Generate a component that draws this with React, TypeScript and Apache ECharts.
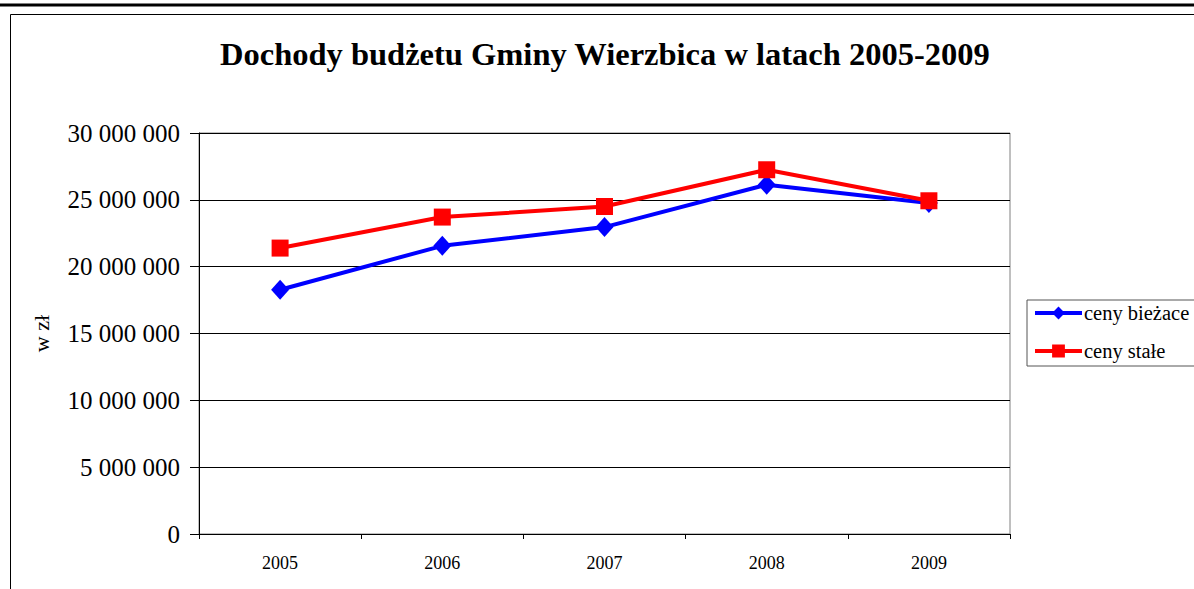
import React, { useEffect, useRef } from "react";
import * as echarts from "echarts";

const years = ["2005", "2006", "2007", "2008", "2009"];
const cenyBiezace = [18270000, 21560000, 22960000, 26130000, 24760000];
const cenyStale = [21390000, 23710000, 24500000, 27250000, 24930000];
const titleText = "Dochody budżetu Gminy Wierzbica w latach 2005-2009";
const seriesNames = ["ceny bieżace", "ceny stałe"];
const yName = "w zł";

const FONT = "'Liberation Serif', 'Times New Roman', serif";

const fmt = (v: number) => String(v).replace(/\B(?=(\d{3})+(?!\d))/g, " ");

export default function App() {
  const ref = useRef<HTMLDivElement>(null);
  useEffect(() => {
    if (!ref.current) return;
    const chart = echarts.init(ref.current, undefined, { renderer: "svg" });
    chart.setOption({
      animation: false,
      backgroundColor: "#ffffff",
      textStyle: { fontFamily: FONT },
      title: {
        text: titleText,
        left: 220,
        top: 37,
        padding: 0,
        textStyle: { fontFamily: FONT, fontSize: 32.5, fontWeight: "bold", color: "#000" },
      },
      graphic: [
        { type: "line", shape: { x1: 0, y1: 5, x2: 1194, y2: 5 }, style: { stroke: "#000", lineWidth: 3 } },
        { type: "rect", shape: { x: 10.5, y: 14.5, width: 1300, height: 700 }, style: { fill: "none", stroke: "#000", lineWidth: 1 }, z: -1 },
      ],
      grid: {
        left: 199,
        top: 133,
        width: 811,
        height: 401,
        show: true,
        borderColor: "#808080",
        borderWidth: 1,
        backgroundColor: "#fff",
      },
      legend: {
        orient: "vertical",
        left: 1027,
        top: 300,
        padding: [2, 40, 4, 6],
        itemWidth: 47,
        itemHeight: 16,
        itemGap: 16,
        borderColor: "#555",
        borderWidth: 1,
        lineStyle: { width: 4 },
        textStyle: { fontFamily: FONT, fontSize: 20.5, lineHeight: 22, color: "#000", padding: [0, 0, 0, -3] },
        data: seriesNames,
      },
      xAxis: {
        type: "category",
        data: years,
        boundaryGap: true,
        axisLine: { show: true, lineStyle: { color: "#000", width: 1 } },
        axisTick: { show: true, length: 5, lineStyle: { color: "#000" } },
        axisLabel: { fontFamily: FONT, fontSize: 18, color: "#000", margin: 20 },
        splitLine: { show: false },
      },
      yAxis: {
        type: "value",
        min: 0,
        max: 30000000,
        interval: 5000000,
        name: yName,
        nameLocation: "middle",
        nameRotate: 90,
        nameGap: 147,
        nameTextStyle: { fontFamily: FONT, fontSize: 22, color: "#000" },
        axisLine: { show: true, lineStyle: { color: "#000", width: 1 } },
        axisTick: { show: true, length: 9, lineStyle: { color: "#000" } },
        axisLabel: { fontFamily: FONT, fontSize: 25, color: "#000", margin: 19, formatter: (v: number) => fmt(v) },
        splitLine: { show: true, lineStyle: { color: "#000", width: 1 } },
      },
      series: [
        {
          name: seriesNames[0],
          type: "line",
          data: cenyBiezace,
          symbol: "diamond",
          symbolSize: [18, 20],
          lineStyle: { color: "#0000ff", width: 4 },
          itemStyle: { color: "#0000ff" },
          z: 2,
        },
        {
          name: seriesNames[1],
          type: "line",
          data: cenyStale,
          symbol: "rect",
          symbolSize: 17,
          lineStyle: { color: "#ff0000", width: 4 },
          itemStyle: { color: "#ff0000" },
          z: 3,
        },
      ],
    });
    return () => chart.dispose();
  }, []);
  return (
    <div
      ref={ref}
      style={{ position: "absolute", left: 0, top: 0, width: 1194, height: 589 }}
    />
  );
}
